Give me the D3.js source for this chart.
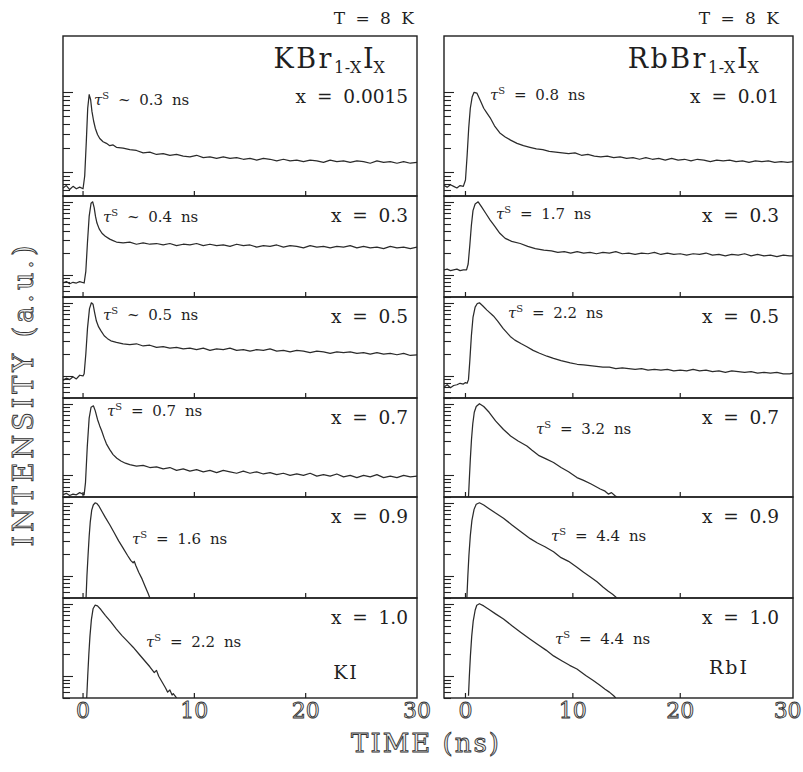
<!DOCTYPE html>
<html><head><meta charset="utf-8">
<script src="https://cdn.jsdelivr.net/npm/d3@7"></script>
<style>body{margin:0;background:#fff}</style>
</head><body><svg id="c" width="803" height="772"></svg>
<script>
// ---------------- DATA ----------------
const compKBr = ["x = 0.0015", "x = 0.3", "x = 0.5", "x = 0.7", "x = 0.9", "x = 1.0"];
const compRbBr = ["x = 0.01", "x = 0.3", "x = 0.5", "x = 0.7", "x = 0.9", "x = 1.0"];
const tauKBr = [["~", "0.3"], ["~", "0.4"], ["~", "0.5"], ["=", "0.7"], ["=", "1.6"], ["=", "2.2"]];
const tauRbBr = [["=", "0.8"], ["=", "1.7"], ["=", "2.2"], ["=", "3.2"], ["=", "4.4"], ["=", "4.4"]];
const timeTicks = [0, 10, 20, 30];
const intensityTicks = [0.05, 0.06, 0.07, 0.08, 0.09, 0.1, 0.2, 0.3, 0.4, 0.5, 0.6, 0.7, 0.8, 0.9, 1];
const endNames = ["KI", "RbI"];
const intensityDomain = [0.05, 1.2];

// series: [time (ns), log10 intensity (a.u.)]
const kbr_0015 = [[-1.8,-1.20],[-1.5,-1.17],[-1.2,-1.22],[-0.9,-1.18],[-0.6,-1.21],[-0.3,-1.19],[0.0,-1.21],[0.15,-1.05],[0.3,-0.6],[0.42,-0.2],[0.55,-0.03],[0.68,-0.09],[0.8,-0.24],[0.95,-0.36],[1.1,-0.45],[1.3,-0.53],[1.5,-0.58],[1.8,-0.62],[2.1,-0.64],[2.4,-0.67],[2.7,-0.66],
[3.0,-0.69],[3.6,-0.70],[4.2,-0.72],[4.8,-0.73],[5.4,-0.76],[6.0,-0.75],[6.6,-0.78],[7.2,-0.77],[7.8,-0.79],[8.4,-0.78],[9.0,-0.80],[9.6,-0.81],[10.2,-0.79],[10.8,-0.82],[11.4,-0.81],[12.0,-0.83],[12.6,-0.81],[13.2,-0.83],[13.8,-0.82],[14.4,-0.84],[15.0,-0.83],[15.6,-0.85],[16.2,-0.83],[16.8,-0.84],[17.4,-0.86],[18.0,-0.84],[18.6,-0.86],[19.2,-0.85],[19.8,-0.87],[20.4,-0.85],[21.0,-0.86],[21.6,-0.88],[22.2,-0.85],[22.8,-0.87],[23.4,-0.86],[24.0,-0.88],[24.6,-0.86],[25.2,-0.87],[25.8,-0.89],[26.4,-0.86],[27.0,-0.88],[27.6,-0.87],[28.2,-0.89],[28.8,-0.87],[29.4,-0.89],[30.0,-0.88]];
const kbr_03 = [[-1.8,-1.11],[-1.5,-1.09],[-1.2,-1.12],[-0.9,-1.10],[-0.6,-1.11],[-0.3,-1.09],[0.1,-1.11],[0.25,-0.95],[0.4,-0.55],[0.55,-0.2],[0.72,-0.02],[0.87,0.0],[1.0,-0.08],[1.12,-0.2],[1.25,-0.29],[1.45,-0.37],[1.7,-0.43],[2.0,-0.47],[2.4,-0.51],[2.7,-0.53],
[3.0,-0.55],[3.6,-0.56],[4.2,-0.55],[4.8,-0.58],[5.4,-0.56],[6.0,-0.58],[6.6,-0.57],[7.2,-0.59],[7.8,-0.57],[8.4,-0.60],[9.0,-0.58],[9.6,-0.59],[10.2,-0.57],[10.8,-0.60],[11.4,-0.58],[12.0,-0.60],[12.6,-0.59],[13.2,-0.61],[13.8,-0.58],[14.4,-0.60],[15.0,-0.59],[15.6,-0.62],[16.2,-0.60],[16.8,-0.61],[17.4,-0.59],[18.0,-0.62],[18.6,-0.60],[19.2,-0.61],[19.8,-0.63],[20.4,-0.60],[21.0,-0.62],[21.6,-0.61],[22.2,-0.63],[22.8,-0.61],[23.4,-0.62],[24.0,-0.60],[24.6,-0.63],[25.2,-0.61],[25.8,-0.63],[26.4,-0.62],[27.0,-0.64],[27.6,-0.61],[28.2,-0.63],[28.8,-0.62],[29.4,-0.64],[30.0,-0.62]];
const kbr_05 = [[-1.8,-1.06],[-1.5,-1.03],[-1.2,-1.05],[-0.9,-1.01],[-0.6,-1.04],[-0.3,-0.99],[0.0,-1.0],[0.1,-0.97],[0.25,-0.7],[0.4,-0.35],[0.58,-0.08],[0.75,0.0],[0.9,-0.02],[1.05,-0.14],[1.2,-0.25],[1.4,-0.33],[1.6,-0.38],[1.9,-0.45],[2.2,-0.49],[2.5,-0.52],
[3.0,-0.54],[3.6,-0.56],[4.2,-0.57],[4.8,-0.56],[5.4,-0.59],[6.0,-0.58],[6.6,-0.61],[7.2,-0.60],[7.8,-0.62],[8.4,-0.61],[9.0,-0.63],[9.6,-0.62],[10.2,-0.64],[10.8,-0.62],[11.4,-0.65],[12.0,-0.63],[12.6,-0.64],[13.2,-0.62],[13.8,-0.65],[14.4,-0.64],[15.0,-0.66],[15.6,-0.64],[16.2,-0.65],[16.8,-0.63],[17.4,-0.66],[18.0,-0.65],[18.6,-0.67],[19.2,-0.65],[19.8,-0.66],[20.4,-0.68],[21.0,-0.66],[21.6,-0.67],[22.2,-0.69],[22.8,-0.67],[23.4,-0.68],[24.0,-0.67],[24.6,-0.69],[25.2,-0.68],[25.8,-0.70],[26.4,-0.68],[27.0,-0.70],[27.6,-0.69],[28.2,-0.71],[28.8,-0.69],[29.4,-0.72],[30.0,-0.71]];
const kbr_07 = [[-1.8,-1.27],[-1.5,-1.25],[-1.2,-1.28],[-0.9,-1.26],[-0.6,-1.27],[-0.3,-1.24],[0.1,-1.27],[0.22,-1.1],[0.38,-0.6],[0.55,-0.2],[0.72,-0.05],[0.93,-0.03],[1.1,-0.1],[1.3,-0.22],[1.5,-0.31],[1.68,-0.38],[1.9,-0.48],[2.1,-0.56],[2.4,-0.64],[2.7,-0.71],[3.04,-0.76],[3.4,-0.80],[3.8,-0.83],
[4.2,-0.85],[4.8,-0.87],[5.4,-0.86],[6.0,-0.89],[6.6,-0.88],[7.2,-0.91],[7.8,-0.89],[8.4,-0.93],[9.0,-0.91],[9.6,-0.94],[10.2,-0.92],[10.8,-0.95],[11.4,-0.93],[12.0,-0.96],[12.6,-0.93],[13.2,-0.95],[13.8,-0.97],[14.4,-0.94],[15.0,-0.97],[15.6,-0.95],[16.2,-0.98],[16.8,-0.96],[17.4,-0.99],[18.0,-0.97],[18.6,-1.00],[19.2,-0.98],[19.8,-1.00],[20.4,-0.97],[21.0,-1.01],[21.6,-0.99],[22.2,-1.01],[22.8,-0.98],[23.4,-1.02],[24.0,-1.00],[24.6,-1.03],[25.2,-1.00],[25.8,-1.02],[26.4,-0.99],[27.0,-1.03],[27.6,-1.01],[28.2,-1.03],[28.8,-1.00],[29.4,-1.02],[30.0,-1.01]];
const kbr_09 = [[0.27,-1.30],[0.35,-1.0],[0.45,-0.72],[0.55,-0.46],[0.65,-0.26],[0.78,-0.1],[0.92,-0.03],[1.08,0.0],[1.25,-0.01],[1.45,-0.05],[1.7,-0.12],[2.0,-0.2],[2.4,-0.3],[2.8,-0.41],[3.2,-0.52],[3.6,-0.62],[4.0,-0.72],[4.3,-0.79],[4.5,-0.82],[4.6,-0.80],[4.75,-0.86],[5.0,-0.95],[5.3,-1.04],[5.6,-1.15],[5.85,-1.24],[6.0,-1.30]];
const kbr_10 = [[0.33,-1.30],[0.42,-1.0],[0.52,-0.7],[0.62,-0.45],[0.75,-0.22],[0.9,-0.07],[1.08,-0.02],[1.3,-0.03],[1.6,-0.08],[2.0,-0.16],[2.5,-0.25],[3.0,-0.35],[3.5,-0.44],[4.0,-0.52],[4.5,-0.6],[5.0,-0.69],[5.5,-0.78],[6.0,-0.87],[6.4,-0.95],[6.6,-0.92],[6.8,-1.0],[7.1,-1.08],[7.4,-1.16],[7.6,-1.22],[7.8,-1.19],[8.0,-1.26],[8.1,-1.24],[8.3,-1.28],[8.4,-1.30]];

const rbbr_001 = [[-2.0,-1.17],[-1.7,-1.19],[-1.4,-1.16],[-1.1,-1.18],[-0.8,-1.2],[-0.5,-1.17],[-0.2,-1.18],[0.0,-1.1],[0.15,-0.8],[0.3,-0.45],[0.45,-0.2],[0.62,-0.06],[0.8,0.0],[1.06,-0.01],[1.37,-0.1],[1.7,-0.2],[2.0,-0.26],[2.3,-0.32],[2.7,-0.42],[3.2,-0.51],[3.7,-0.56],[4.2,-0.6],[4.8,-0.64],[5.4,-0.67],
[6.0,-0.69],[6.6,-0.71],[7.2,-0.72],[7.8,-0.74],[8.4,-0.75],[9.0,-0.76],[9.6,-0.77],[10.2,-0.76],[10.8,-0.79],[11.4,-0.78],[12.0,-0.80],[12.6,-0.81],[13.2,-0.80],[13.8,-0.82],[14.4,-0.81],[15.0,-0.83],[15.6,-0.82],[16.2,-0.84],[16.8,-0.82],[17.4,-0.84],[18.0,-0.83],[18.6,-0.85],[19.2,-0.83],[19.8,-0.85],[20.4,-0.84],[21.0,-0.86],[21.6,-0.84],[22.2,-0.85],[22.8,-0.87],[23.4,-0.85],[24.0,-0.86],[24.6,-0.85],[25.2,-0.87],[25.8,-0.86],[26.4,-0.88],[27.0,-0.86],[27.6,-0.87],[28.2,-0.86],[28.8,-0.88],[29.4,-0.87],[30.0,-0.88],[30.5,-0.87]];
const rbbr_03 = [[-2.0,-0.93],[-1.7,-0.92],[-1.4,-0.94],[-1.1,-0.93],[-0.8,-0.92],[-0.5,-0.94],[-0.2,-0.93],[0.1,-0.93],[0.25,-0.85],[0.4,-0.6],[0.55,-0.32],[0.7,-0.12],[0.9,-0.03],[1.18,0.0],[1.5,-0.07],[1.9,-0.16],[2.3,-0.25],[2.7,-0.33],[3.2,-0.43],[3.7,-0.5],[4.3,-0.54],[5.1,-0.57],[5.8,-0.61],[6.5,-0.64],[7.3,-0.66],
[8.0,-0.67],[8.6,-0.69],[9.2,-0.68],[9.8,-0.70],[10.4,-0.68],[11.0,-0.70],[11.6,-0.69],[12.2,-0.71],[12.8,-0.69],[13.4,-0.70],[14.0,-0.68],[14.6,-0.71],[15.2,-0.70],[15.8,-0.72],[16.4,-0.70],[17.0,-0.71],[17.6,-0.69],[18.2,-0.72],[18.8,-0.70],[19.4,-0.72],[20.0,-0.71],[20.6,-0.73],[21.2,-0.71],[21.8,-0.72],[22.4,-0.70],[23.0,-0.73],[23.6,-0.72],[24.2,-0.74],[24.8,-0.72],[25.4,-0.73],[26.0,-0.71],[26.6,-0.74],[27.2,-0.72],[27.8,-0.74],[28.4,-0.73],[29.0,-0.75],[29.6,-0.73],[30.2,-0.74],[30.5,-0.74]];
const rbbr_05 = [[-2.0,-1.15],[-1.7,-1.12],[-1.4,-1.16],[-1.1,-1.13],[-0.8,-1.12],[-0.5,-1.10],[-0.2,-1.11],[0.0,-1.09],[0.15,-1.1],[0.28,-1.05],[0.4,-0.8],[0.55,-0.45],[0.7,-0.2],[0.9,-0.06],[1.1,-0.01],[1.3,0.0],[1.6,-0.04],[2.0,-0.1],[2.6,-0.18],[3.0,-0.25],[3.5,-0.35],[4.17,-0.46],[4.6,-0.51],[5.2,-0.56],[5.72,-0.6],[6.3,-0.65],[6.9,-0.69],[7.59,-0.73],[8.2,-0.76],[8.9,-0.79],[9.76,-0.82],
[10.4,-0.84],[11.0,-0.85],[11.6,-0.86],[12.2,-0.87],[12.8,-0.88],[13.4,-0.88],[14.0,-0.90],[14.6,-0.89],[15.2,-0.90],[15.8,-0.91],[16.4,-0.90],[17.0,-0.92],[17.6,-0.91],[18.2,-0.92],[18.8,-0.91],[19.4,-0.93],[20.0,-0.92],[20.6,-0.93],[21.2,-0.91],[21.8,-0.93],[22.4,-0.92],[23.0,-0.94],[23.6,-0.93],[24.2,-0.95],[24.8,-0.93],[25.4,-0.94],[26.0,-0.95],[26.6,-0.94],[27.2,-0.96],[27.8,-0.95],[28.4,-0.96],[29.0,-0.95],[29.6,-0.97],[30.2,-0.97],[30.5,-0.96]];
const rbbr_07 = [[0.28,-1.30],[0.36,-1.05],[0.45,-0.78],[0.56,-0.5],[0.68,-0.28],[0.82,-0.12],[1.0,-0.04],[1.3,0.0],[1.7,-0.04],[2.2,-0.12],[2.8,-0.24],[3.54,-0.36],[4.2,-0.45],[4.9,-0.52],[5.72,-0.59],[6.2,-0.65],[6.8,-0.72],[7.5,-0.77],[8.2,-0.82],[8.9,-0.89],[9.6,-0.95],[10.38,-1.03],[11.0,-1.07],[11.7,-1.12],[12.55,-1.19],[13.0,-1.22],[13.3,-1.26],[13.6,-1.24],[13.9,-1.28],[14.1,-1.30]];
const rbbr_09 = [[0.13,-1.30],[0.22,-1.0],[0.32,-0.72],[0.45,-0.45],[0.6,-0.24],[0.8,-0.09],[1.0,-0.02],[1.3,0.0],[1.7,-0.03],[2.2,-0.08],[2.8,-0.14],[3.54,-0.21],[4.3,-0.3],[5.1,-0.39],[6.03,-0.49],[6.7,-0.55],[7.4,-0.6],[8.2,-0.67],[8.9,-0.75],[9.6,-0.8],[10.38,-0.88],[11.0,-0.95],[11.6,-1.01],[12.25,-1.08],[12.8,-1.15],[13.3,-1.21],[13.7,-1.25],[14.1,-1.30]];
const rbbr_10 = [[0.28,-1.27],[0.36,-1.0],[0.46,-0.72],[0.58,-0.45],[0.72,-0.24],[0.9,-0.09],[1.05,-0.02],[1.3,0.0],[1.7,-0.03],[2.2,-0.08],[2.8,-0.14],[3.54,-0.21],[4.3,-0.3],[5.1,-0.39],[6.03,-0.49],[6.8,-0.57],[7.5,-0.64],[8.2,-0.72],[9.0,-0.79],[9.7,-0.85],[10.38,-0.9],[11.2,-0.99],[11.9,-1.06],[12.55,-1.13],[13.0,-1.18],[13.4,-1.22],[13.8,-1.27],[14.0,-1.30]];

const seriesKBr = [kbr_0015, kbr_03, kbr_05, kbr_07, kbr_09, kbr_10];
const seriesRbBr = [rbbr_001, rbbr_03, rbbr_05, rbbr_07, rbbr_09, rbbr_10];

// ---------------- LAYOUT ----------------
const svg = d3.select("#c");
const SERIF = "'DejaVu Serif', 'Liberation Serif', serif";
const INK = "#1f1f1f";

const rows = [
  {top: 36, bottom: 196, dataTop: 86},
  {top: 196, bottom: 297},
  {top: 297, bottom: 398},
  {top: 398, bottom: 497},
  {top: 497, bottom: 598},
  {top: 598, bottom: 698}
];

const cols = [
  {x0: 63, x1: 417, dom: [-1.8, 30], series: seriesKBr, comps: compKBr, taus: tauKBr,
   tauPos: [[94,105],[103,222],[103,320],[107,416],[132,544],[146,647]],
   compEnd: 408, title: ["KBr", "1-X", "I", "X"], titleEnd: 385, tEnd: 414,
   endName: endNames[0], endPos: [346, 679]},
  {x0: 444, x1: 793, dom: [-2.0, 30.5], series: seriesRbBr, comps: compRbBr, taus: tauRbBr,
   tauPos: [[490,100],[496,219],[508,318],[536,434],[551,541],[555,644]],
   compEnd: 779, title: ["RbBr", "1-X", "I", "X"], titleEnd: 759, tEnd: 779,
   endName: endNames[1], endPos: [729, 674]}
];

const defs = svg.append("defs");

cols.forEach((c, ci) => {
  const x = d3.scaleLinear().domain(c.dom).range([c.x0, c.x1]);
  rows.forEach((r, ri) => {
    const y = d3.scaleLog().domain(intensityDomain).range([r.bottom, r.dataTop || r.top]);
    const clipId = `clip${ci}_${ri}`;
    defs.append("clipPath").attr("id", clipId).append("rect")
      .attr("x", c.x0).attr("y", r.top).attr("width", c.x1 - c.x0).attr("height", r.bottom - r.top);
    const g = svg.append("g");
    // curve
    const line = d3.line().x(d => x(d[0])).y(d => y(Math.pow(10, d[1])));
    g.append("path").datum(c.series[ri]).attr("clip-path", `url(#${clipId})`)
      .attr("d", line).attr("fill", "none").attr("stroke", "#2b2b2b")
      .attr("stroke-width", 1.25).attr("stroke-linejoin", "round");
    // y ticks (log, inside on left)
    intensityTicks.forEach(v => {
      const lv = Math.log10(v);
      const major = Math.abs(lv - Math.round(lv)) < 1e-6;
      const yy = Math.round(y(v)) + 0.5;
      g.append("line").attr("x1", c.x0).attr("x2", c.x0 + (major ? 10 : 7))
        .attr("y1", yy).attr("y2", yy).attr("stroke", "#222").attr("stroke-width", 1.1);
    });
    // x ticks (bottom, pointing up)
    timeTicks.filter(t => t < 30).forEach(t => {
      g.append("line").attr("x1", x(t)).attr("x2", x(t))
        .attr("y1", r.bottom).attr("y2", r.bottom - 5).attr("stroke", INK).attr("stroke-width", 1.2);
    });
    // frame
    g.append("rect").attr("x", c.x0).attr("y", r.top).attr("width", c.x1 - c.x0)
      .attr("height", r.bottom - r.top).attr("fill", "none").attr("stroke", INK).attr("stroke-width", 1.4);
    // composition label
    const cb = r.top + (ri === 0 ? 67 : 26);
    g.append("text").attr("x", c.compEnd).attr("y", cb).attr("text-anchor", "end")
      .attr("font-family", SERIF).attr("font-size", 18.5).attr("word-spacing", 5)
      .attr("fill", INK).text(c.comps[ri]);
    // tau label
    const [tx, ty] = c.tauPos[ri];
    const tt = g.append("text").attr("x", tx).attr("y", ty)
      .attr("font-family", SERIF).attr("font-size", 15).attr("fill", INK);
    tt.append("tspan").attr("font-style", "italic").text("\u03c4");
    tt.append("tspan").attr("font-size", 10).attr("dy", -6.5).text("S");
    tt.append("tspan").attr("dy", 6.5).attr("word-spacing", 4).text(` ${c.taus[ri][0]} ${c.taus[ri][1]} ns`);
  });

  // title
  const ttl = svg.append("text").attr("x", c.titleEnd).attr("y", 68).attr("text-anchor", "end")
    .attr("font-family", SERIF).attr("font-size", 27).attr("fill", INK);
  ttl.append("tspan").attr("letter-spacing", 2.5).text(c.title[0]);
  ttl.append("tspan").attr("font-size", 16).attr("dy", 5).attr("letter-spacing", 0.5).text(c.title[1]);
  ttl.append("tspan").attr("dy", -5).attr("dx", 1).text(c.title[2]);
  ttl.append("tspan").attr("font-size", 16).attr("dy", 5).text(c.title[3]);

  // temperature
  svg.append("text").attr("x", c.tEnd).attr("y", 24).attr("text-anchor", "end")
    .attr("font-family", SERIF).attr("font-size", 17).attr("word-spacing", 5)
    .attr("fill", INK).text("T = 8 K");

  // end-member name
  svg.append("text").attr("x", c.endPos[0]).attr("y", c.endPos[1]).attr("text-anchor", "middle")
    .attr("font-family", SERIF).attr("font-size", 19).attr("letter-spacing", 2)
    .attr("fill", INK).text(c.endName);

  // x tick labels (outlined)
  timeTicks.forEach(t => {
    svg.append("text").attr("x", x(t)).attr("y", 718).attr("text-anchor", "middle")
      .attr("font-family", SERIF).attr("font-size", 22)
      .attr("fill", "#eeeeee").attr("stroke", "#333").attr("stroke-width", 0.9)
      .text(t);
  });
});

// axis titles (outlined)
svg.append("text").attr("x", 426).attr("y", 752).attr("text-anchor", "middle")
  .attr("font-family", SERIF).attr("font-size", 26).attr("letter-spacing", 2)
  .attr("fill", "#eeeeee").attr("stroke", "#333").attr("stroke-width", 0.9)
  .text("TIME (ns)");
svg.append("text").attr("transform", "translate(33,394) rotate(-90)").attr("text-anchor", "middle")
  .attr("font-family", SERIF).attr("font-size", 27).attr("letter-spacing", 4)
  .attr("fill", "#eeeeee").attr("stroke", "#333").attr("stroke-width", 0.9)
  .text("INTENSITY (a.u.)");
</script></body></html>
